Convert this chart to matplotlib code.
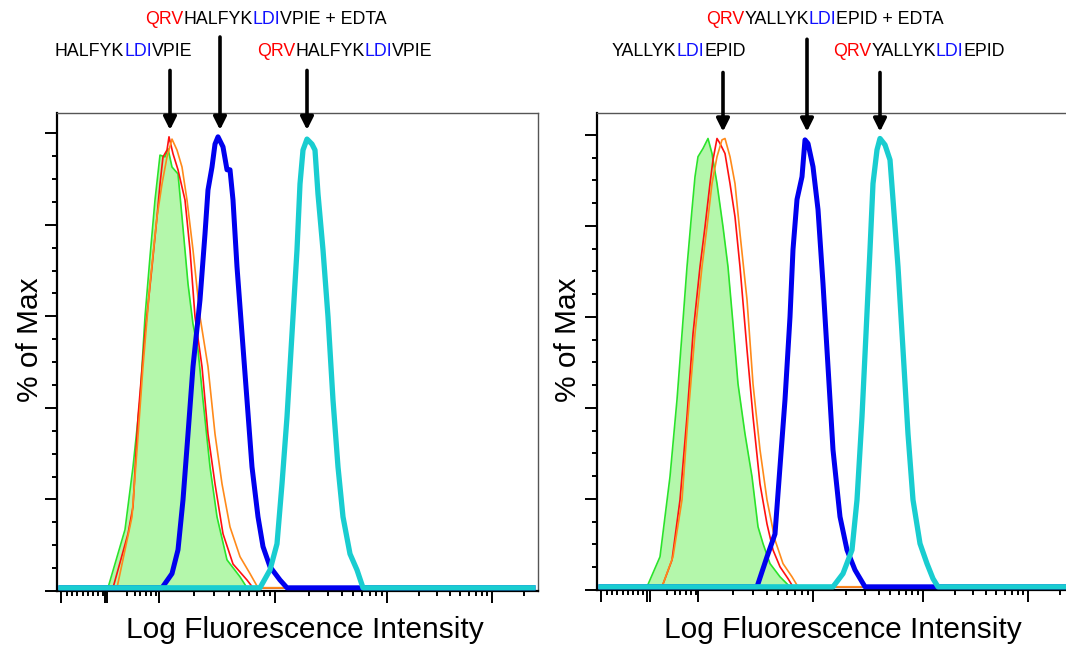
import numpy as np
import matplotlib
matplotlib.use('Agg')
import matplotlib.pyplot as plt

W, H = 1066, 645
plt.rcParams['font.family'] = ['Liberation Sans', 'DejaVu Sans']

# ---- left panel (HALFYKLDIVPIE), x = channel position, y = % of max ----
L_green_x = [47, 64, 72, 79, 84, 89, 94, 99, 104, 107, 111, 117, 121, 127, 132, 137, 142, 149, 156, 166, 179, 186]
L_green_y = [0, 12.7, 26.4, 41.0, 59.2, 72.3, 84.7, 94.5, 94.1, 95.9, 91.9, 90.4, 81.0, 66.4, 57.6, 52.0, 41.0, 26.4, 15.5, 6.1, 2.4, 0]
L_red_x = [52, 67, 72, 77, 84, 91, 96, 99, 102, 106, 108, 112, 117, 124, 129, 134, 141, 147, 154, 162, 172, 186, 192]
L_red_y = [0, 11.8, 17.7, 37.3, 55.5, 70.1, 81.0, 88.2, 94.1, 95.6, 98.5, 94.8, 91.3, 84.7, 73.8, 59.2, 48.3, 33.6, 22.7, 11.8, 5.2, 1.7, 0]
L_orange_x = [56, 71, 76, 82, 89, 96, 101, 106, 111, 116, 121, 126, 132, 139, 147, 154, 161, 169, 179, 189, 197]
L_orange_y = [0, 15.5, 30.1, 48.3, 66.4, 81.0, 88.2, 94.1, 98.0, 95.6, 91.9, 84.7, 73.8, 59.2, 48.3, 33.6, 22.7, 13.3, 6.8, 3.1, 0]
L_blue_x = [101, 111, 117, 122, 127, 132, 139, 144, 147, 151, 154, 157, 162, 166, 169, 172, 176, 181, 186, 191, 197, 202, 209, 219, 226]
L_blue_y = [0, 3.1, 8.3, 19.2, 33.6, 48.3, 62.9, 77.3, 86.9, 91.9, 96.9, 98.5, 96.3, 91.3, 91.3, 84.7, 70.1, 55.5, 41.0, 26.4, 15.5, 9.0, 4.6, 1.7, 0]
L_cyan_x = [199, 209, 216, 221, 226, 231, 236, 239, 242, 246, 251, 254, 257, 262, 267, 272, 277, 282, 289, 296, 302]
L_cyan_y = [0, 3.9, 9.6, 22.7, 37.3, 55.5, 73.8, 88.2, 95.6, 98.0, 96.9, 95.6, 86.0, 73.8, 59.2, 41.0, 26.4, 15.5, 7.4, 3.9, 0]

# ---- right panel (YALLYKLDIEPID) ----
R_green_x = [46, 59, 64, 69, 76, 81, 86, 91, 94, 97, 102, 107, 111, 116, 122, 127, 132, 137, 144, 151, 157, 162, 169, 179, 189]
R_green_y = [0, 6.6, 15.4, 24.2, 41.1, 55.6, 70.3, 82.9, 90.1, 94.5, 96.3, 98.5, 95.2, 88.6, 79.1, 70.3, 57.8, 44.6, 33.6, 24.2, 13.2, 9.5, 5.1, 2.2, 0]
R_red_x = [61, 71, 79, 86, 92, 99, 104, 109, 112, 116, 119, 124, 129, 134, 139, 146, 152, 159, 166, 172, 179, 187, 192]
R_red_y = [0, 5.9, 19.1, 37.4, 55.6, 70.3, 79.1, 88.6, 93.8, 98.5, 97.4, 95.2, 88.6, 81.3, 70.3, 52.1, 37.4, 22.6, 13.8, 8.1, 4.4, 1.8, 0]
R_orange_x = [61, 72, 81, 87, 94, 101, 106, 111, 116, 121, 124, 129, 134, 139, 146, 152, 159, 166, 174, 182, 191, 197]
R_orange_y = [0, 6.6, 19.1, 37.4, 55.6, 70.3, 79.1, 88.6, 94.5, 98.2, 98.5, 94.5, 88.6, 77.6, 63.1, 44.6, 30.1, 19.1, 10.3, 5.1, 2.2, 0]
R_blue_x = [156, 166, 174, 179, 184, 189, 192, 196, 201, 204, 207, 212, 217, 222, 227, 232, 239, 246, 254, 264]
R_blue_y = [0, 6.6, 11.6, 26.4, 41.1, 59.3, 74.1, 85.1, 90.1, 98.2, 97.4, 92.3, 82.9, 66.6, 48.4, 30.1, 15.4, 8.1, 3.7, 0]
R_cyan_x = [232, 242, 251, 256, 261, 265, 269, 272, 276, 279, 284, 289, 292, 297, 302, 307, 312, 319, 326, 332, 337]
R_cyan_y = [0, 2.9, 8.1, 19.1, 37.4, 55.6, 74.1, 88.6, 96.0, 98.5, 97.1, 93.8, 85.1, 70.3, 52.1, 33.6, 19.1, 9.5, 5.1, 1.8, 0]

# labels over the arrows: (text, color) pieces
K, R, B = 'black', '#ff0000', '#1010ff'
L_labels = [
    [("HALFYK", K), ("LDI", B), ("VPIE", K)],
    [("QRV", R), ("HALFYK", K), ("LDI", B), ("VPIE + EDTA", K)],
    [("QRV", R), ("HALFYK", K), ("LDI", B), ("VPIE", K)],
]
R_labels = [
    [("YALLYK", K), ("LDI", B), ("EPID", K)],
    [("QRV", R), ("YALLYK", K), ("LDI", B), ("EPID + EDTA", K)],
    [("QRV", R), ("YALLYK", K), ("LDI", B), ("EPID", K)],
]
L_arrows = [109, 159, 246]
R_arrows = [122, 206, 279]

fig = plt.figure(figsize=(W / 100, H / 100), dpi=100)
renderer = fig.canvas.get_renderer()


def pad(xs, ys, xmax):
    return [0] + list(xs) + [xmax], [0] + list(ys) + [0]


def colored_text(x_px, y_px, parts, size):
    x = x_px
    for s, c in parts:
        t = fig.text(x / W, 1 - y_px / H, s, color=c, fontsize=size, ha='left', va='center')
        x += t.get_window_extent(renderer).width


def panel(rect, data, decades, ytop, label_x, arrows, labels):
    ax = fig.add_axes(rect)
    green, red, orange, blue, cyan = data
    gx, gy = pad(*green, 472)
    ax.fill_between(gx, gy, 0, color='#b4f7ab', lw=0, zorder=1)
    ax.plot(gx, gy, color='#2be32b', lw=1.2, zorder=2)
    ax.plot(*pad(*red, 472), color='#ff1010', lw=1.2, zorder=3)
    ax.plot(*pad(*orange, 472), color='#ff8a1a', lw=1.2, zorder=4)
    ax.plot(*pad(*blue, 472), color='#0000ee', lw=3.6, zorder=5)
    ax.plot(*pad(*cyan, 472), color='#19cdd0', lw=3.8, zorder=6)
    ax.set_xlim(-4, 477)
    ax.set_ylim(-0.7, ytop)

    # biexponential-like tick layout
    first = decades[0]
    majors = [0, first[0], first[1]] + list(decades[1])
    minors = [6, 11, 16, 22, 27, 32, 37, 42, 66, 74, 79, 85, 90, 95]
    dec = list(decades[1])
    widths = np.diff(dec).tolist()
    widths.append(widths[-1])
    for d0, w in zip(dec, widths):
        for k in range(2, 10):
            p = d0 + np.log10(k) * w
            if p < 476:
                minors.append(p)
    ax.set_xticks(majors)
    ax.set_xticks(minors, minor=True)
    ax.set_yticks(np.arange(0, 101, 20) - 0.7)
    ax.set_yticks(np.arange(0, 101, 5) - 0.7, minor=True)
    ax.tick_params(which='both', direction='out', labelbottom=False, labelleft=False,
                   width=1.4, color='black')
    ax.tick_params(which='major', length=8.5)
    ax.tick_params(which='minor', length=3.5)
    for s in ('left', 'bottom'):
        ax.spines[s].set_color('black')
        ax.spines[s].set_linewidth(1.6)
    for s in ('top', 'right'):
        ax.spines[s].set_color('#555555')
        ax.spines[s].set_linewidth(1.0)

    for i, xa in enumerate(arrows):
        ytail = 120.3 if i == 1 else 113
        ax.annotate('', xy=(xa, 100), xytext=(xa, ytail), annotation_clip=False,
                    arrowprops=dict(arrowstyle='-|>', color='black', lw=2.6, mutation_scale=19,
                                    shrinkA=0, shrinkB=0))
    for (lx, ly), parts in zip(label_x, labels):
        colored_text(lx, ly, parts, 12.8)
    return ax


axL = panel([57 / W, (H - 591) / H, 481 / W, 478 / H],
            [(L_green_x, L_green_y), (L_red_x, L_red_y), (L_orange_x, L_orange_y),
             (L_blue_x, L_blue_y), (L_cyan_x, L_cyan_y)],
            ((44, 46), (98, 214, 326, 431)), 103.7,
            [(55, 52), (145, 19), (257, 52)], L_arrows, L_labels)
axR = panel([597 / W, (H - 590) / H, 481 / W, 477 / H],
            [(R_green_x, R_green_y), (R_red_x, R_red_y), (R_orange_x, R_orange_y),
             (R_blue_x, R_blue_y), (R_cyan_x, R_cyan_y)],
            ((46, 49), (97, 212, 322, 427)), 104.1,
            [(612, 52), (706, 19), (833, 52)], R_arrows, R_labels)

for cx in (305, 843):
    fig.text(cx / W, 1 - 630 / H, "Log Fluorescence Intensity", fontsize=21.5, ha='center', va='center')
for cx in (30, 568):
    fig.text(cx / W, 1 - 340 / H, "% of Max", fontsize=21.5, ha='center', va='center', rotation=90)

fig.savefig('out.png', dpi=100)
